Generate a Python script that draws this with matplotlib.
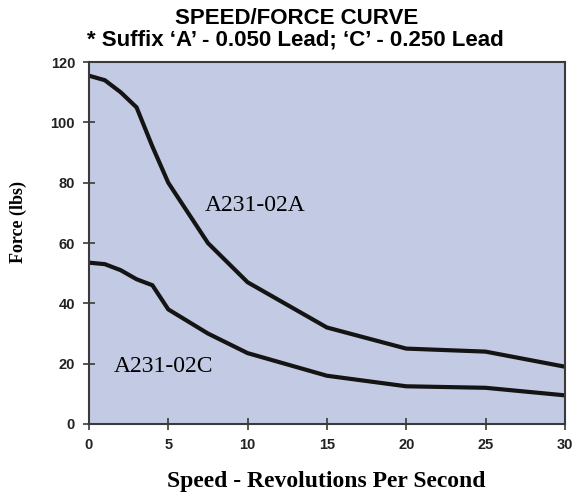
"""Speed/force curve for the A231-02 actuators."""

import matplotlib
matplotlib.use("Agg")
import matplotlib.pyplot as plt

speed_rps = [0, 1, 2, 3, 4, 5, 7.5, 10, 15, 20, 25, 30]
force_a = [115.5, 114, 110, 105, 92, 80, 60, 47, 32, 25, 24, 19]
force_c = [53.5, 53, 51, 48, 46, 38, 30, 23.5, 16, 12.5, 12, 9.5]
x_ticks = [0, 5, 10, 15, 20, 25, 30]
y_ticks = [0, 20, 40, 60, 80, 100, 120]

fig = plt.figure(figsize=(5.74, 4.93), dpi=100)
ax = fig.add_axes([0.155, 0.140, 0.829, 0.734])
ax.set_facecolor('#c3cbe4')

ax.plot(speed_rps, force_a, color='#141414', linewidth=3, solid_joinstyle='miter')
ax.plot(speed_rps, force_c, color='#141414', linewidth=3, solid_joinstyle='miter')

ax.set_xlim(0, 30)
ax.set_ylim(0, 120)
ax.set_xticks(x_ticks)
ax.set_yticks(y_ticks)
for spine in ax.spines.values():
    spine.set_color('#3a3a3a')
    spine.set_linewidth(1.5)
ax.tick_params(direction='inout', length=8, width=1.2, color='#3a3a3a',
               labelsize=10.5, pad=6)
for lbl in ax.get_xticklabels() + ax.get_yticklabels():
    lbl.set_fontfamily('Liberation Sans')
    lbl.set_fontweight('bold')
    lbl.set_color('#222222')

# curve labels, placed by baseline
ax.text(7.3, 70.6, 'A231-02A', fontfamily='Liberation Serif', fontsize=17, va='baseline')
ax.text(1.55, 17.2, 'A231-02C', fontfamily='Liberation Serif', fontsize=17, va='baseline')

fig.text(297 / 574, 1 - 19 / 493, 'SPEED/FORCE CURVE', ha='center', va='center',
         fontfamily='Liberation Sans', fontweight='bold', fontsize=16)
fig.text(295 / 574, 1 - 40 / 493, "* Suffix \u2018A\u2019 - 0.050 Lead; \u2018C\u2019 - 0.250 Lead",
         ha='center', va='center', fontfamily='Liberation Sans', fontweight='bold', fontsize=16)

fig.text(326 / 574, 1 - 481 / 493, 'Speed - Revolutions Per Second', ha='center', va='center',
         fontfamily='Liberation Serif', fontweight='bold', fontsize=17)
fig.text(18 / 574, 1 - 222 / 493, 'Force (lbs)', ha='center', va='center', rotation=90,
         fontfamily='Liberation Serif', fontweight='bold', fontsize=13)

fig.savefig('out.png', dpi=100)
